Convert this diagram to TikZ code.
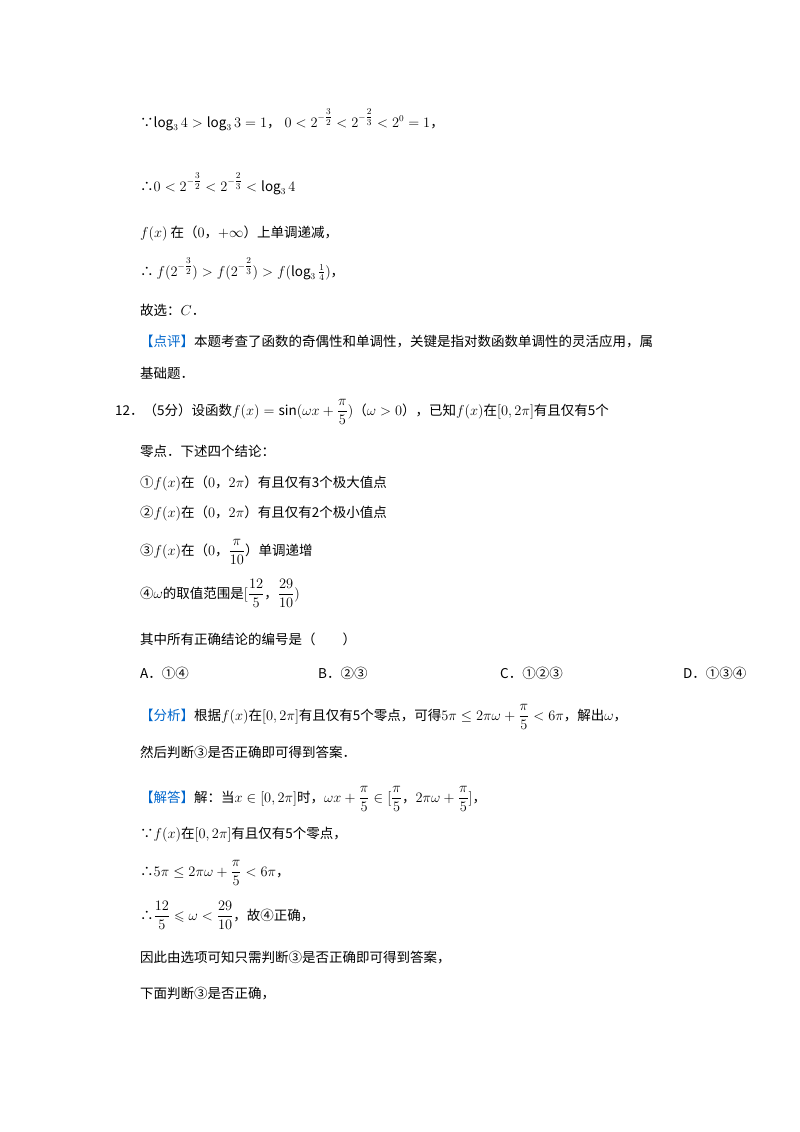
\documentclass[tikz,border=0pt]{standalone}
\usepackage{amsmath,amssymb}
\usepackage{fontspec}
\setmainfont{Noto Sans CJK SC}
\definecolor{hl}{RGB}{0,102,204}
\newcommand{\ex}[2]{^{-\tfrac{#1}{#2}}}
\begin{document}
\begin{tikzpicture}[x=1pt,y=1pt,t/.style={anchor=base west,inner sep=0pt,font=\fontsize{13.5}{16}\selectfont}]
\useasboundingbox (0,0) rectangle (800,-1132);
\node[t] (l1) at (140,-127) {∵$\log_3 4>\log_3 3=1$，$\;0<2\ex{3}{2}<2\ex{2}{3}<2^{0}=1$，};
\node[t] (l2) at (140,-191) {∴$0<2\ex{3}{2}<2\ex{2}{3}<\log_3 4$};
\node[t] (l3) at (140,-237) {$f(x)$ 在（$0$，$+\infty$）上单调递减，};
\node[t] (l4) at (140,-276) {∴ $f(2\ex{3}{2})>f(2\ex{2}{3})>f(\log_3\tfrac{1}{4})$，};
\node[t] (l5) at (140,-315) {故选：$C$．};
\node[t] (l6) at (140,-346) {\textcolor{hl}{【点评】}本题考查了函数的奇偶性和单调性，关键是指对数函数单调性的灵活应用，属};
\node[t] (l7) at (140,-378) {基础题．};
\node[t] (l8) at (115,-415) {12．（5分）设函数$f(x)=\sin(\omega x+\dfrac{\pi}{5})$（$\omega>0$），已知$f(x)$在$[0,2\pi]$有且仅有5个};
\node[t] (l9) at (140,-456) {零点．下述四个结论：};
\node[t] (l10) at (140,-487) {①$f(x)$在（$0$，$2\pi$）有且仅有3个极大值点};
\node[t] (l11) at (140,-517) {②$f(x)$在（$0$，$2\pi$）有且仅有2个极小值点};
\node[t] (l12) at (140,-555) {③$f(x)$在（$0$，$\dfrac{\pi}{10}$）单调递增};
\node[t] (l13) at (140,-598) {④$\omega$的取值范围是$[\dfrac{12}{5}$，$\dfrac{29}{10})$};
\node[t] (l14) at (140,-644) {其中所有正确结论的编号是（　　）};
\node[t] (a) at (140,-678) {A．①④};
\node[t] (b) at (318,-678) {B．②③};
\node[t] (c) at (500,-678) {C．①②③};
\node[t] (d) at (683,-678) {D．①③④};
\node[t] (l16) at (140,-720) {\textcolor{hl}{【分析】}根据$f(x)$在$[0,2\pi]$有且仅有5个零点，可得$5\pi\le 2\pi\omega+\dfrac{\pi}{5}<6\pi$，解出$\omega$，};
\node[t] (l17) at (140,-757) {然后判断③是否正确即可得到答案．};
\node[t] (l18) at (140,-802) {\textcolor{hl}{【解答】}解：当$x\in[0,2\pi]$时，$\omega x+\dfrac{\pi}{5}\in[\dfrac{\pi}{5}$，$2\pi\omega+\dfrac{\pi}{5}]$，};
\node[t] (l19) at (140,-838) {∵$f(x)$在$[0,2\pi]$有且仅有5个零点，};
\node[t] (l20) at (140,-876) {∴$5\pi\le 2\pi\omega+\dfrac{\pi}{5}<6\pi$，};
\node[t] (l21) at (140,-920) {∴$\dfrac{12}{5}\leqslant\omega<\dfrac{29}{10}$，故④正确，};
\node[t] (l22) at (140,-962) {因此由选项可知只需判断③是否正确即可得到答案，};
\node[t] (l23) at (140,-998) {下面判断③是否正确，};
\end{tikzpicture}
\end{document}
